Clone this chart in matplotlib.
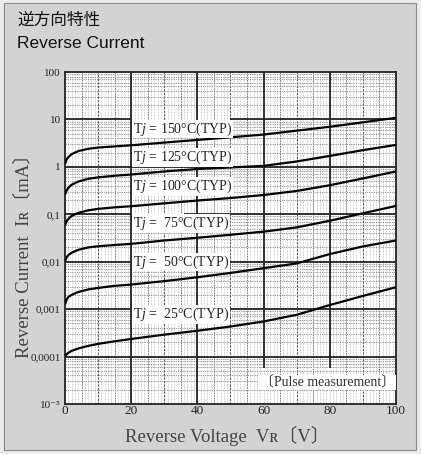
import numpy as np
import matplotlib
matplotlib.use("Agg")
import matplotlib.pyplot as plt
from matplotlib.patches import Rectangle

plt.rcParams['font.family'] = ['Liberation Serif', 'DejaVu Serif', 'Noto Sans CJK JP']
plt.rcParams['mathtext.fontset'] = 'custom'
plt.rcParams['mathtext.rm'] = 'Liberation Serif'
plt.rcParams['mathtext.it'] = 'Liberation Serif:italic'

# Reverse voltage (V) sample points
voltage = [0, 0.5, 1, 2, 4, 7, 10, 15, 20, 30, 40, 50, 60, 70, 80, 90, 100]

# Reverse current (mA) per junction temperature
i_150 = [1.15, 1.45, 1.6, 1.85, 2.15, 2.4, 2.55, 2.7, 2.85, 3.25, 3.7, 4.2, 4.8, 5.8, 7.0, 8.7, 10.8]
i_125 = [0.26, 0.32, 0.36, 0.42, 0.49, 0.56, 0.6, 0.65, 0.69, 0.8, 0.9, 0.97, 1.05, 1.3, 1.7, 2.25, 2.9]
i_100 = [0.058, 0.072, 0.08, 0.092, 0.107, 0.121, 0.13, 0.14, 0.148, 0.17, 0.195, 0.22, 0.255, 0.31, 0.41, 0.57, 0.8]
i_75 = [0.0102, 0.0125, 0.0138, 0.0155, 0.0178, 0.02, 0.0212, 0.0225, 0.0238, 0.028, 0.032, 0.037, 0.043, 0.053, 0.073, 0.105, 0.15]
i_50 = [0.00125, 0.0016, 0.0018, 0.002, 0.0023, 0.0026, 0.0028, 0.0031, 0.0033, 0.0039, 0.0047, 0.0058, 0.0073, 0.0092, 0.0145, 0.021, 0.028]
i_25 = [0.0001, 0.000112, 0.00012, 0.000132, 0.000148, 0.000168, 0.000185, 0.00021, 0.000235, 0.00029, 0.00035, 0.00043, 0.00055, 0.00076, 0.00122, 0.0019, 0.0029]

curves = [i_150, i_125, i_100, i_75, i_50, i_25]
curve_labels = [r"T$\it{j}$ = 150°C(TYP)", r"T$\it{j}$ = 125°C(TYP)", r"T$\it{j}$ = 100°C(TYP)",
                r"T$\it{j}$ =  75°C(TYP)", r"T$\it{j}$ =  50°C(TYP)", r"T$\it{j}$ =  25°C(TYP)"]
label_y = [6.3, 1.6, 0.385, 0.065, 0.0098, 0.00076]

x_ticks = [0, 20, 40, 60, 80, 100]
y_ticks = [1e-5, 1e-4, 1e-3, 1e-2, 1e-1, 1, 10, 100]
y_tick_labels = ["10⁻⁵", "0,0001", "0,001", "0,01", "0,1", "1", "10", "100"]

fig = plt.figure(figsize=(4.21, 4.54), dpi=100)
fig.patch.set_facecolor('#ebebeb')
fig.patches.append(Rectangle((4 / 421, 4 / 454), 412 / 421, 447 / 454, transform=fig.transFigure,
                             facecolor='#d3d3d3', edgecolor='#8a8a8a', linewidth=0.8, zorder=-5))

fig.text(17 / 421, 1 - 20 / 454, "逆方向特性", family=['Noto Sans CJK JP'], fontsize=12,
         va='center', ha='left', color='#111111')
fig.text(17 / 421, 1 - 44 / 454, "Reverse Current", family=['Liberation Sans', 'DejaVu Sans'],
         fontsize=12.5, va='center', ha='left', color='#111111')

ax = fig.add_axes([65 / 421, 1 - 404 / 454, 331 / 421, 332 / 454])
ax.set_facecolor('white')
ax.set_yscale('log')
ax.set_xlim(0, 100)
ax.set_ylim(1e-5, 100)

# minor grid
ax.vlines(np.arange(1, 100, 1), 1e-5, 100, colors='#a8a8a8', linewidth=0.5, linestyles=(0, (1, 1.2)), zorder=1)
ax.vlines([5, 15, 25, 35, 45, 55, 65, 75, 85, 95], 1e-5, 100, colors='#7a7a7a', linewidth=0.7,
          linestyles=(0, (1.5, 1.2)), zorder=1)
ax.vlines([10, 30, 50, 70, 90], 1e-5, 100, colors='#5a5a5a', linewidth=0.8, linestyles=(0, (2, 1.2)), zorder=1)
minor_y = [k * 10.0 ** e for e in range(-5, 2) for k in range(2, 10)]
ax.hlines(minor_y, 0, 100, colors='#8c8c8c', linewidth=0.6, linestyles=(0, (1.5, 1.2)), zorder=1)

# major grid (with gaps where labels sit)
major_kw = dict(colors='#222222', linewidth=1.3, zorder=2)
ax.vlines([20, 40], 1e-5, 100, **major_kw)
ax.vlines([60, 80], 5.7e-5, 100, **major_kw)
ax.hlines([1, 1e-4], 0, 100, **major_kw)
ax.hlines([10, 1e-2, 1e-3], 0, 20, **major_kw)
ax.hlines([10, 1e-2, 1e-3], 50, 100, **major_kw)
ax.hlines([0.1], 0, 20, **major_kw)
ax.hlines([0.1], 36, 100, **major_kw)

for ys in curves:
    ax.plot(voltage, ys, color='black', linewidth=1.6, zorder=3, solid_capstyle='butt')

for txt, yl in zip(curve_labels, label_y):
    ax.text(20.6, yl, txt, fontsize=10, color='#222222', va='center', ha='left', zorder=4,
            bbox=dict(facecolor='white', edgecolor='none', pad=0.5))

ax.text(79.3, 2.8e-5, "〔Pulse measurement〕", fontsize=10, color='#333333', va='center', ha='center',
        zorder=4, bbox=dict(facecolor='white', edgecolor='none', pad=0.5))

ax.set_xticks(x_ticks)
ax.set_yticks(y_ticks)
ax.set_yticklabels(y_tick_labels)
ax.yaxis.set_minor_locator(matplotlib.ticker.NullLocator())
ax.tick_params(axis='both', length=0, colors='#222222')
ax.tick_params(axis='x', labelsize=9.5, pad=1)
ax.tick_params(axis='y', labelsize=8, pad=3)
for sp in ax.spines.values():
    sp.set_color('#222222')
    sp.set_linewidth(1.3)

fig.text(227 / 421, 1 - 436 / 454, "Reverse Voltage  Vʀ〔V〕", fontsize=13.5, color='#444444',
         ha='center', va='center')
fig.text(23.5 / 421, 1 - 251 / 454, "Reverse Current  Iʀ〔mA〕", fontsize=13.5, color='#444444',
         ha='center', va='center', rotation=90)

fig.savefig("out.png", dpi=100, facecolor=fig.get_facecolor())
